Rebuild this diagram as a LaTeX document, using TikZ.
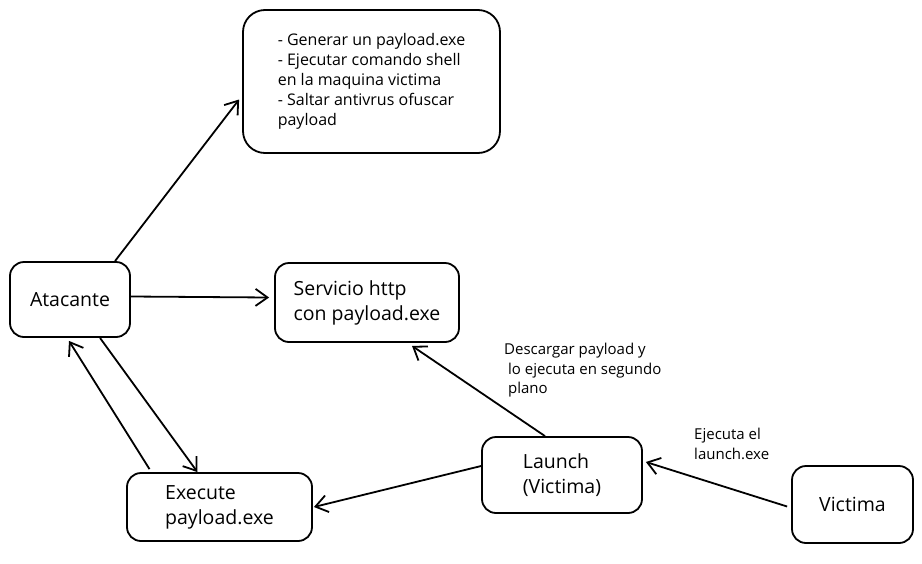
\documentclass[tikz,border=0pt]{standalone}
\usepackage{fontspec}
\setmainfont{Open Sans}
\usetikzlibrary{arrows.meta}
\begin{document}
\begin{tikzpicture}[x=1pt,y=-1pt,
 caja/.style={draw,line width=1.8pt,rounded corners=14pt,align=left,inner sep=0pt,font=\fontsize{19.5}{25}\selectfont},
 nota/.style={anchor=north west,align=left,inner sep=0pt,font=\fontsize{15}{19.5}\selectfont},
 flecha/.style={line width=1.8pt,-{Straight Barb[length=12pt,width=17pt]}}]
\useasboundingbox (0,0) rectangle (922,563);
\node [caja,minimum width=257pt,minimum height=143pt,rounded corners=22pt,font=\fontsize{16}{20}\selectfont] (tareas) at (371.5,81.5) {- Generar un payload.exe\\- Ejecutar comando shell\\en la maquina victima\\- Saltar antivrus ofuscar\\payload};
\node [caja,minimum width=120pt,minimum height=75pt] (atacante) at (70,299.5) {Atacante};
\node [caja,minimum width=184pt,minimum height=79pt] (servicio) at (367,302.5) {Servicio http\\con payload.exe};
\node [caja,minimum width=185pt,minimum height=68pt] (execute) at (219.5,507) {Execute\\payload.exe};
\node [caja,minimum width=160pt,minimum height=76pt] (launch) at (562,475) {Launch\\(Victima)};
\node [caja,minimum width=121pt,minimum height=77pt] (victima) at (852.5,504.5) {Victima};
\node [nota] (descarga) at (504,343) {Descargar payload y\\\ lo ejecuta en segundo\\\ plano};
\node [nota] (ejecuta) at (694,428) {Ejecuta el\\launch.exe};
\draw [flecha] ([xshift=45pt]atacante.north) -- ([xshift=-3pt,yshift=-18pt]tareas.west);
\draw [flecha] ([yshift=3pt]atacante.east) -- ([xshift=-5pt,yshift=5pt]servicio.west);
\draw [flecha] ([xshift=30pt]atacante.south) -- ([xshift=-22pt]execute.north);
\draw [flecha] ([xshift=-70pt,yshift=3pt]execute.north) -- ([xshift=-1pt,yshift=-3pt]atacante.south);
\draw [flecha] ([yshift=9pt]launch.west) -- ([xshift=1pt]execute.east);
\draw [flecha] ([xshift=-17pt]launch.north) -- ([xshift=45pt,yshift=-3pt]servicio.south);
\draw [flecha] ([xshift=-4pt,yshift=-2pt]victima.west) -- ([xshift=3pt,yshift=13pt]launch.east);
\end{tikzpicture}
\end{document}
